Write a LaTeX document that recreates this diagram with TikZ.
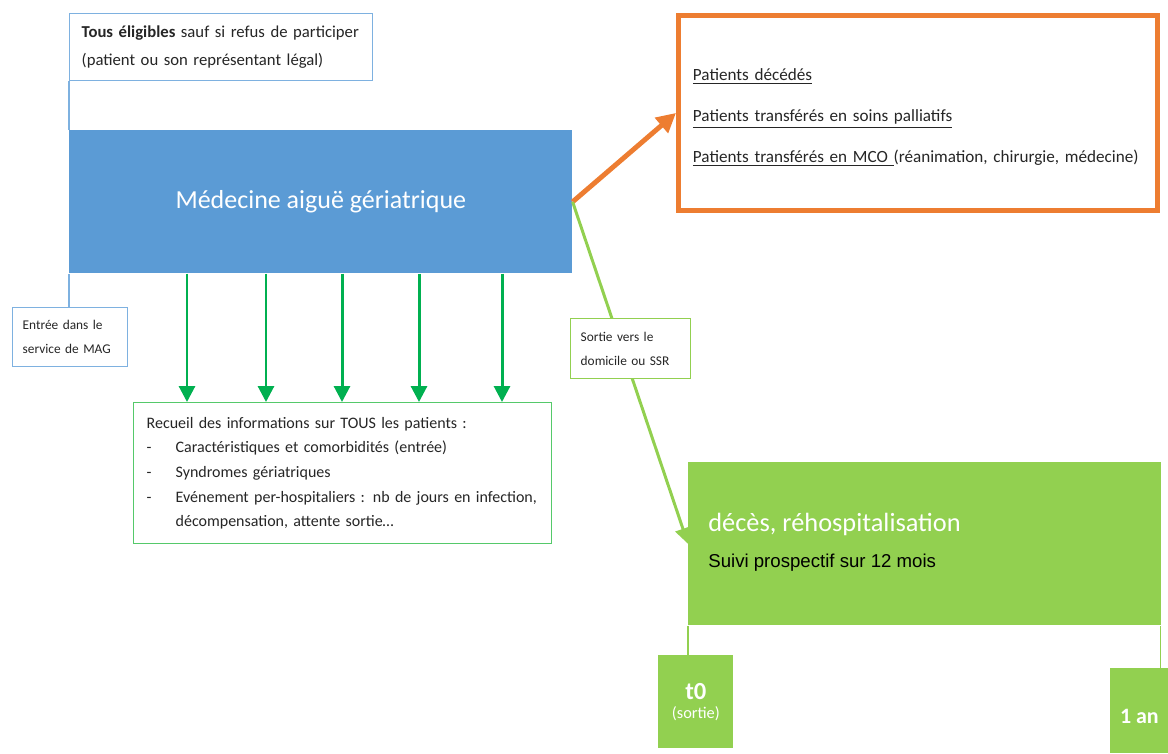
\documentclass[tikz,border=0pt]{standalone}
\usepackage{fontspec}
\setmainfont{Carlito}
\newfontfamily\arialfont{Liberation Sans}
\usetikzlibrary{arrows.meta,positioning}

\definecolor{magbleu}{HTML}{5B9BD5}
\definecolor{bleuclair}{HTML}{7EB1E0}
\definecolor{orangefonce}{HTML}{ED7D31}
\definecolor{vertclair}{HTML}{92D050}
\definecolor{vertfonce}{HTML}{00B050}
\definecolor{vertcadre}{HTML}{55C96A}
\definecolor{texte}{HTML}{262626}

\newcommand{\tiret}{\makebox[0.58cm][l]{-}}

\tikzset{x=0.02cm, y=-0.02cm, >={Triangle[length=9pt,width=9pt]},
  cadre/.style={draw=bleuclair, line width=0.8pt, fill=white, inner sep=0pt,
    inner xsep=0.2cm, align=left, anchor=north west, text=texte},
  bloc/.style={fill=#1, inner sep=0pt, anchor=north west},
  temps/.style={fill=vertclair, inner sep=0pt, anchor=north west, align=center, text=white},
  lien/.style={draw=#1, line width=0.8pt}}

\begin{document}
\begin{tikzpicture}
        \useasboundingbox (0,0) rectangle (1168,753);

        \node[cadre, text width=5.58cm, inner xsep=0.24cm, minimum height=1.34cm,
          font=\fontsize{9.5}{15.5}\selectfont] (elig) at (69,13)
          {\textbf{Tous éligibles} sauf si refus de participer\\(patient ou son représentant légal)};
        \node[bloc=magbleu, minimum width=10.06cm, minimum height=2.86cm, text=white,
          font=\fontsize{14.8}{17}\selectfont] (mag) at (69,130) {Médecine aiguë gériatrique};
        \node[cadre, text width=1.9cm, minimum height=1.18cm,
          font=\fontsize{7.6}{13.5}\selectfont] (entree) at (12,307)
          {Entrée dans le\\service de MAG};

        \node[cadre, draw=vertcadre, text width=7.84cm, inner xsep=0.26cm, minimum height=2.82cm,
          font=\fontsize{9.1}{14}\selectfont] (recueil) at (133,402)
          {Recueil des informations sur TOUS les patients :\\
           \tiret Caractéristiques et comorbidités (entrée)\\
           \tiret Syndromes gériatriques\\
           \mbox{\tiret Evénement per-hospitaliers : nb de jours en infection,}\\
           \hspace*{0.58cm}décompensation, attente sortie…};

        \node[cadre, draw=orangefonce, line width=2.8pt, text width=9cm, inner xsep=0.29cm,
          minimum height=3.9cm, font=\fontsize{9.75}{23.5}\selectfont] (exclus) at (676,13)
          {\rule{0pt}{12pt}\underline{Patients décédés}\\
           \underline{Patients transférés en soins palliatifs}\\
           \underline{Patients transférés en MCO }(réanimation, chirurgie, médecine)};

        \node[bloc=vertclair, minimum width=9.46cm, minimum height=3.26cm] (suivi) at (688,462) {};
        \node[anchor=west, inner sep=0pt, text=white, font=\fontsize{15}{18}\selectfont]
          (suivititre) at (708,524) {décès, réhospitalisation};
        \node[below=0.55cm of suivititre.south west, anchor=west, inner sep=0pt, text=black,
          font=\arialfont\fontsize{10.6}{12}\selectfont] (suivitexte) {Suivi prospectif sur 12 mois};

        \node[temps, minimum width=1.5cm, minimum height=1.86cm] (tzero) at (658,655)
          {\fontsize{14}{17}\selectfont\textbf{t0}\\[-1pt]\fontsize{9.3}{12}\selectfont(sortie)};
        \node[temps, minimum width=1.16cm, minimum height=1.7cm, font=\fontsize{12.5}{14}\selectfont\bfseries]
          (unan) at (1110,668) {\raisebox{-7pt}[0pt][0pt]{1 an}};

        % liens fins
        \draw[lien=bleuclair] (elig.south west) to (mag.north west);
        \draw[lien=bleuclair] (mag.south west) to (mag.south west |- entree.north);
        \draw[lien=vertclair] (suivi.south west) to (suivi.south west |- tzero.north);
        \draw[lien=vertclair] ([xshift=-0.02cm]suivi.south east) to ([xshift=-0.02cm]suivi.south east |- unan.north);

        \foreach \x in {187,266,342,419,502}
          \draw[->, vertfonce, line width=1.7pt] (mag.south -| \x,0) to (recueil.north -| \x,0);

        \draw[->, orangefonce, line width=2.8pt, >={Triangle[length=11pt,width=11pt]}] (mag.east) to (exclus.west);
        \draw[->, vertclair, line width=1.7pt] (mag.east) to (suivi.west);

        \node[cadre, draw=vertclair, text width=2cm, minimum height=1.2cm,
          font=\fontsize{7.6}{13.5}\selectfont] (sortie) at (570,318)
          {Sortie vers le\\domicile ou SSR};
      \end{tikzpicture}
\end{document}
